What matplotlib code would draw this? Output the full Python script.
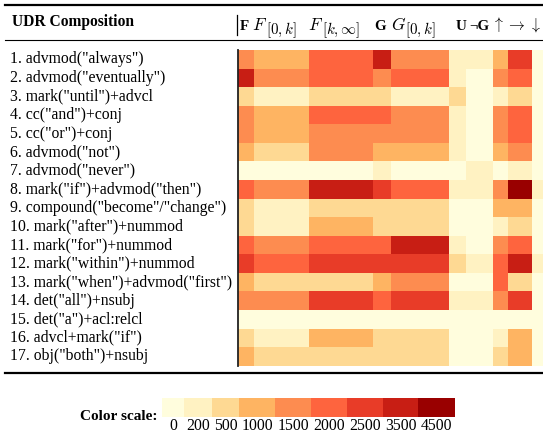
import numpy as np
import matplotlib
matplotlib.use("Agg")
import matplotlib.pyplot as plt
from matplotlib.colors import ListedColormap, BoundaryNorm
from matplotlib.lines import Line2D
from matplotlib.transforms import blended_transform_factory

plt.rcParams['font.family'] = ['Liberation Serif', 'DejaVu Serif']
plt.rcParams['mathtext.fontset'] = 'cm'

# row labels
udr_rows = ['1. advmod("always")', '2. advmod("eventually")', '3. mark("until")+advcl',
            '4. cc("and")+conj', '5. cc("or")+conj', '6. advmod("not")',
            '7. advmod("never")', '8. mark("if")+advmod("then")',
            '9. compound("become"/"change")', '10. mark("after")+nummod',
            '11. mark("for")+nummod', '12. mark("within")+nummod',
            '13. mark("when")+advmod("first")', '14. det("all")+nsubj',
            '15. det("a")+acl:relcl', '16. advcl+mark("if")', '17. obj("both")+nsubj']

# counts per temporal column
F_counts = [1650, 3800, 620, 1720, 1580, 1210, 90, 2140, 560, 710, 2230, 2760, 1340, 1890, 40, 640, 1120]
F0k_counts = [1180, 1760, 310, 1250, 1300, 720, 60, 1830, 280, 340, 1690, 2170, 830, 1610, 20, 390, 910]
Fkinf_counts = [2310, 2240, 780, 2160, 1940, 1720, 110, 3900, 930, 1160, 2280, 2900, 870, 3120, 50, 1230, 960]
G_counts = [3650, 1540, 640, 2050, 1600, 1070, 230, 2950, 580, 820, 2120, 2640, 1030, 2390, 30, 690, 790]
G0k_counts = [1820, 2370, 420, 1910, 1760, 1390, 120, 2410, 610, 850, 3700, 3150, 1580, 2860, 40, 740, 680]
U_counts = [260, 340, 560, 220, 280, 240, 80, 380, 150, 120, 300, 510, 170, 410, 10, 90, 130]
notG_counts = [240, 150, 60, 110, 90, 130, 270, 310, 70, 40, 100, 260, 80, 220, 10, 50, 60]
up_counts = [1140, 1620, 350, 1700, 1530, 1090, 70, 1880, 1010, 330, 1750, 2080, 2190, 1660, 30, 380, 640]
right_counts = [3050, 2210, 890, 2330, 2120, 1810, 290, 4800, 1070, 560, 2260, 3820, 730, 2980, 20, 1150, 1270]
down_counts = [40, 60, 20, 50, 30, 20, 10, 210, 30, 20, 70, 230, 40, 80, 0, 30, 20]

scale_bounds = [0, 200, 500, 1000, 1500, 2000, 2500, 3500, 4500]
scale_labels = ['0', '200', '500', '1000', '1500', '2000', '2500', '3500', '4500']

palette = ['#fffddd', '#fff2c2', '#fed993', '#feb462', '#fd8c50',
           '#fe643e', '#e83c28', '#c81e14', '#990000']
cmap = ListedColormap(palette)
norm = BoundaryNorm(scale_bounds + [1e9], cmap.N)

W, H = 543, 434


def fx(px):
    return px / W


def fy(py):
    return 1 - py / H


fig = plt.figure(figsize=(W / 100, H / 100), dpi=100)

matrix = np.array([F_counts, F0k_counts, Fkinf_counts, G_counts, G0k_counts,
                   U_counts, notG_counts, up_counts, right_counts, down_counts]).T
col_widths = [16, 55, 64, 18, 58, 17, 27, 15, 24, 11]
x_edges = np.concatenate([[0], np.cumsum(col_widths)])
y_edges = np.arange(len(udr_rows) + 1)

ax = fig.add_axes([fx(238), fy(365.7), fx(543) - fx(238), fy(50) - fy(365.7)])
ax.pcolormesh(x_edges, y_edges, matrix, cmap=cmap, norm=norm)
ax.set_xlim(0, x_edges[-1])
ax.set_ylim(len(udr_rows), 0)
ax.set_xticks([])
ax.set_yticks([])
for s in ['top', 'right', 'bottom']:
    ax.spines[s].set_visible(False)
ax.spines['left'].set_linewidth(1.3)
ax.spines['left'].set_color('#222222')

tr = blended_transform_factory(fig.transFigure, ax.transData)
for i, lab in enumerate(udr_rows):
    ax.text(fx(10), i + 0.5, lab, transform=tr, ha='left', va='center',
            fontsize=11.3, clip_on=False)

# header
fig.text(fx(12), fy(22), 'UDR Composition', fontsize=11.2, fontweight='bold',
         ha='left', va='center')
base = fy(29.5)
sub_base = fy(34)
bold_headers = [(240, 'F'), (374, 'G'), (456, 'U'), (469, '\u00acG')]
for x, h in bold_headers:
    fig.text(fx(x), base, h, fontsize=10.8, fontweight='bold', ha='left', va='baseline')
letter_headers = [(252, r'$F$'), (308, r'$F$'), (391, r'$G$')]
for x, h in letter_headers:
    fig.text(fx(x), base, h, fontsize=12.5, ha='left', va='baseline')
sub_headers = [(265.5, r'$[0,k]$'), (321.5, r'$[k,\infty]$'), (405, r'$[0,k]$')]
for x, h in sub_headers:
    fig.text(fx(x), sub_base, h, fontsize=10.8, ha='left', va='baseline')
arrow_headers = [(498.5, r'$\uparrow$'), (515.5, r'$\rightarrow$'), (535, r'$\downarrow$')]
for x, h in arrow_headers:
    fig.text(fx(x), base, h, fontsize=11.5, ha='center', va='baseline')
fig.add_artist(Line2D([fx(237), fx(237)], [fy(15), fy(35)], transform=fig.transFigure,
                      color='black', lw=0.9))

# rules
fig.add_artist(Line2D([fx(5), 1], [fy(5), fy(5)], transform=fig.transFigure, color='black', lw=1.6))
fig.add_artist(Line2D([fx(5), 1], [fy(40), fy(40)], transform=fig.transFigure, color='black', lw=0.8))
fig.add_artist(Line2D([fx(5), 1], [fy(372.5), fy(372.5)], transform=fig.transFigure, color='black', lw=1.6))

# color scale
patch_edges = [0, 21.7, 49.4, 77, 113, 148.7, 184.4, 220.4, 256, 292.7]
cax = fig.add_axes([fx(162.3), fy(417), fx(455) - fx(162.3), fy(398) - fy(417)])
cax.pcolormesh(patch_edges, [0, 1], [scale_bounds], cmap=cmap, norm=norm)
cax.set_xlim(patch_edges[0], patch_edges[-1])
cax.set_ylim(0, 1)
centers = [(patch_edges[i] + patch_edges[i + 1]) / 2 for i in range(len(scale_labels))]
cax.set_xticks(centers)
cax.set_xticklabels(scale_labels, fontsize=11.3)
cax.tick_params(axis='x', length=0, pad=1)
cax.set_yticks([])
for s in cax.spines.values():
    s.set_visible(False)
fig.text(fx(158), fy(416), 'Color scale:', fontsize=11, fontweight='bold',
         ha='right', va='center')

fig.savefig('out.png', dpi=100)
